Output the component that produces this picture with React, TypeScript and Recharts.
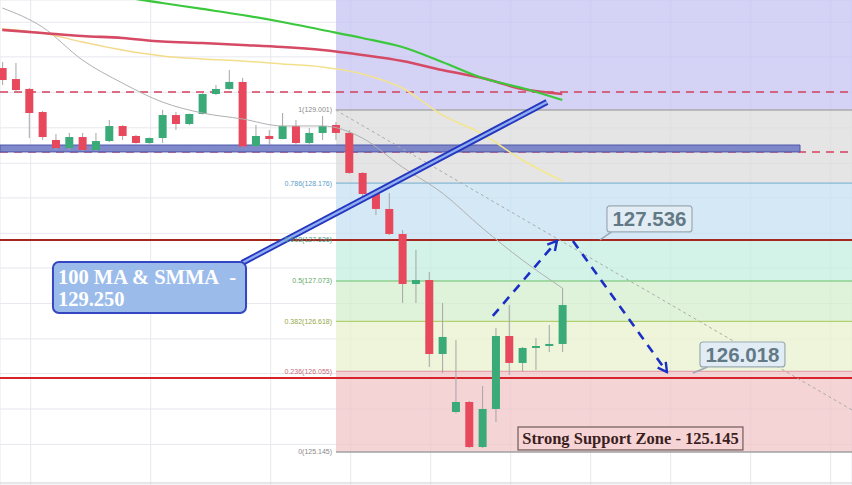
import React from 'react';
import {
  ComposedChart, Bar, Line, XAxis, YAxis, CartesianGrid, ReferenceArea, ReferenceLine,
} from 'recharts';

// ---------- data ----------
const candleIndex = [
  0, 1, 2, 3, 4, 5, 6, 7, 8, 9, 10, 11, 12, 13, 14, 15, 16, 17, 18, 19, 20,
  21, 22, 23, 24, 25, 26, 27, 28, 29, 30, 31, 32, 33, 34, 35, 36, 37, 38, 39, 40, 41, 42,
];
const opens = [
  129.474, 129.35, 129.238, 128.978, 128.663, 128.572, 128.696, 128.55, 128.651, 128.82,
  128.708, 128.629, 128.685, 128.944, 128.843, 128.956, 129.181, 129.238, 129.317, 128.595,
  128.708, 128.674, 128.82, 128.629, 128.742, 128.832, 128.742, 128.291, 128.054, 127.885,
  127.603, 127.039, 127.084, 126.25, 125.596, 125.709, 125.201, 125.63, 126.453, 126.149,
  126.318, 126.34, 126.363,
];
const highs = [
  129.542, 129.531, 129.25, 128.99, 128.73, 128.742, 128.742, 128.742, 128.888, 128.83,
  128.72, 128.69, 129.001, 128.978, 128.96, 129.19, 129.283, 129.452, 129.362, 128.832,
  128.775, 128.967, 128.888, 128.798, 128.933, 128.866, 128.775, 128.3, 128.06, 128.065,
  127.648, 127.423, 127.175, 126.825, 126.408, 125.72, 125.889, 126.543, 126.802, 126.33,
  126.43, 126.577, 126.994,
];
const lows = [
  129.283, 129.204, 128.685, 128.663, 128.55, 128.55, 128.539, 128.539, 128.64, 128.663,
  128.62, 128.62, 128.629, 128.775, 128.83, 128.95, 129.17, 129.23, 128.58, 128.59,
  128.606, 128.67, 128.606, 128.606, 128.663, 128.663, 128.28, 128.02, 127.817, 127.59,
  126.825, 126.825, 126.104, 126.036, 125.58, 125.19, 125.19, 125.483, 126.013, 126.047,
  126.07, 126.273, 126.273,
];
const closes = [
  129.339, 129.226, 128.967, 128.696, 128.572, 128.696, 128.55, 128.651, 128.82, 128.708,
  128.629, 128.685, 128.944, 128.843, 128.956, 129.181, 129.238, 129.317, 128.59, 128.708,
  128.674, 128.82, 128.629, 128.742, 128.82, 128.742, 128.291, 128.054, 127.885, 127.603,
  127.039, 127.084, 126.25, 126.442, 125.709, 125.201, 125.63, 126.453, 126.149, 126.318,
  126.34, 126.363, 126.802,
];

const maIndex = [0, 3, 6, 9, 12, 15, 18, 21, 24, 27, 30, 33, 36, 39, 42];
const ma100Green = [
  null, null, 130.331, 130.275, 130.207, 130.14, 130.072, 129.993, 129.903, 129.813,
  129.711, 129.542, 129.362, 129.249, 129.114,
];
const smmaRed = [
  129.903, 129.869, 129.835, 129.813, 129.773, 129.756, 129.734, 129.711, 129.677, 129.621,
  129.553, 129.452, 129.362, 129.238, 129.181,
];
const maYellow = [
  129.914, 129.869, 129.768, 129.677, 129.61, 129.576, 129.553, 129.52, 129.486, 129.407,
  129.249, 128.945, 128.73, 128.437, 128.201,
];
const maGray = [
  130.151, 129.937, 129.565, 129.305, 129.091, 128.967, 128.9, 128.821, 128.821, 128.685,
  128.358, 128.065, 127.671, 127.31, 126.994,
];

const fibRatios = ['1', '0.786', '0.618', '0.5', '0.382', '0.236', '0'];
const fibPrices = [129.001, 128.176, 127.536, 127.073, 126.618, 126.055, 125.145];
const fibLineColors = ['#aaaaaa', '#86b8d6', '#7fcfb0', '#8fd08f', '#b4cf70', '#e5a3aa', '#a0a0a0'];
const fibTextColors = ['#8a8a8a', '#5b9cc8', '#4f9f8a', '#5ea865', '#94a848', '#c46f7c', '#8a8a8a'];
const fibZoneColors = ['#c5c3f2', '#dcdcdc', '#c7e0f2', '#c4efe0', '#d4efcd', '#e8f2ce', '#f2c5c8'];

const dashedRedLevel = 129.204;
const bandTop = 128.606;
const bandBottom = 128.528;
const resistanceLevel = 127.536;
const supportLevel = 125.98;

const calloutLines = ['100 MA & SMMA\u00a0 -', '129.250'];
const resistanceLabel = '127.536';
const supportLabel = '126.018';
const zoneLabel = 'Strong Support Zone - 125.145';

// ---------- chart domain ----------
const X_MIN = -0.1725;
const X_MAX = 63.73;
const Y_MIN = 124.773;
const Y_MAX = 130.241;
const FIB_START = 25.03;
const BAND_END = 59.83;

const gridX = Array.from({ length: 21 }, (_, k) => 2.13 + 3 * k);
const gridY = [
  124.83, 125.23, 125.63, 126.03, 126.42, 126.82, 127.22, 127.61, 128.01, 128.4, 128.8,
  129.2, 129.6, 129.99,
];

const GREEN = '#3aaa78';
const RED = '#e8485c';

const data = candleIndex.map((i, k) => ({
  i,
  open: opens[k],
  high: highs[k],
  low: lows[k],
  close: closes[k],
  range: [lows[k], highs[k]],
}));

const maData = maIndex.map((i, k) => ({
  i,
  green: ma100Green[k],
  red: smmaRed[k],
  yellow: maYellow[k],
  gray: maGray[k],
}));
const greenData = maData.filter((d) => d.green != null);

const Candle = (props: any) => {
  const { x, width, payload } = props;
  let { y, height } = props;
  if (!payload || x == null) return null;
  if (height < 0) { y += height; height = -height; }
  const { open, close, high, low } = payload;
  const span = high - low;
  const k = span > 0 ? height / span : 0;
  const yOf = (p: number) => y + (high - p) * k;
  const top = yOf(Math.max(open, close));
  const bot = yOf(Math.min(open, close));
  const cx = x + width / 2;
  const color = close >= open ? GREEN : RED;
  return (
    <g>
      <line x1={cx} x2={cx} y1={y} y2={y + height} stroke="#a5a5a5" strokeWidth={1} />
      <rect x={x} y={top} width={width} height={Math.max(bot - top, 2)} fill={color} />
    </g>
  );
};

const serif = '"Liberation Serif", "Times New Roman", serif';
const sans = '"Liberation Sans", Arial, sans-serif';

const CalloutBox = (p: any) => (
  <g>
    <rect x={p.x} y={p.y} width={p.width} height={p.height} rx={6} fill="#9bbcea" stroke="#3446c2" strokeWidth={2} />
    <text x={p.x + 5} y={p.y + 22} fill="#ffffff" fontFamily={serif} fontWeight="bold" fontSize={20.5}>{calloutLines[0]}</text>
    <text x={p.x + 5} y={p.y + 44} fill="#ffffff" fontFamily={serif} fontWeight="bold" fontSize={20.5}>{calloutLines[1]}</text>
  </g>
);

const priceBox = (label: string) => (p: any) => (
  <g>
    <rect x={p.x} y={p.y} width={p.width} height={p.height} rx={3} fill="#e2ecf4" stroke="#9aa9b4" strokeWidth={1.2} />
    <text x={p.x + p.width / 2} y={p.y + p.height / 2 + 7.5} textAnchor="middle" fill="#627986" fontFamily={sans} fontWeight="bold" fontSize={20.5}>{label}</text>
  </g>
);

const ZoneBox = (p: any) => (
  <g>
    <rect x={p.x} y={p.y} width={p.width} height={p.height} fill="#f6d4d6" stroke="#6e5a5a" strokeWidth={1.2} />
    <text x={p.x + p.width / 2} y={p.y + p.height / 2 + 5.5} textAnchor="middle" fill="#3b1f1f" fontFamily={serif} fontWeight="bold" fontSize={16.5}>{zoneLabel}</text>
  </g>
);

const arrowLine = (p: any) => (
  <line x1={p.x1} y1={p.y1} x2={p.x2} y2={p.y2} stroke="#1c2fc4" strokeWidth={2.6} strokeDasharray="9 7" markerEnd="url(#arrowHead)" />
);

export default function App() {
  const zoneBounds = [Y_MAX, ...fibPrices];
  return (
    <div style={{ position: 'fixed', left: 0, top: 0, width: 852, height: 485, background: '#ffffff' }}>
      <ComposedChart width={852} height={485} data={data} margin={{ top: 0, right: 0, bottom: 0, left: 0 }}>
        <defs>
          <marker id="arrowHead" viewBox="0 0 12 12" refX="10" refY="6" markerWidth="12" markerHeight="12" markerUnits="userSpaceOnUse" orient="auto">
            <path d="M1,1 L10,6 L1,11" fill="none" stroke="#1c2fc4" strokeWidth={2.4} />
          </marker>
          <linearGradient id="yellowGrad" x1="0" y1="0" x2="1" y2="0">
            <stop offset="0%" stopColor="#f0a25a" />
            <stop offset="12%" stopColor="#f3d88a" />
            <stop offset="100%" stopColor="#f3e98e" />
          </linearGradient>
        </defs>
        <XAxis dataKey="i" type="number" domain={[X_MIN, X_MAX]} ticks={gridX} allowDataOverflow hide />
        <YAxis type="number" domain={[Y_MIN, Y_MAX]} ticks={gridY} allowDataOverflow hide />
        <CartesianGrid stroke="#e7e7ee" strokeWidth={1} zIndex={-100} />

        {fibZoneColors.map((c, k) => (
          <ReferenceArea key={'z' + k} x1={FIB_START} x2={X_MAX} y1={zoneBounds[k + 1]} y2={zoneBounds[k]}
            fill={c} fillOpacity={0.75} stroke="none" ifOverflow="visible" zIndex={-60} />
        ))}
        {fibPrices.map((p, k) => (
          <ReferenceLine key={'f' + k} segment={[{ x: FIB_START, y: p }, { x: X_MAX, y: p }]}
            stroke={fibLineColors[k]} strokeWidth={1.3} ifOverflow="visible" zIndex={-40}
            label={{ value: `${fibRatios[k]}(${p.toFixed(3)})`, position: 'left', offset: 4, fill: fibTextColors[k], fontSize: 7, fontFamily: sans }} />
        ))}

        <ReferenceLine y={dashedRedLevel} stroke="#d4415e" strokeWidth={1.6} strokeDasharray="8 6" ifOverflow="visible" zIndex={-30} />
        <ReferenceLine y={bandBottom} stroke="#d4415e" strokeWidth={1.4} strokeDasharray="8 6" ifOverflow="visible" zIndex={-30} />
        <ReferenceArea x1={X_MIN} x2={BAND_END} y1={bandBottom} y2={bandTop} fill="#7580c6" fillOpacity={0.92}
          stroke="#4c57ad" strokeWidth={1} ifOverflow="visible" zIndex={-20} />
        <ReferenceLine y={resistanceLevel} stroke="#a3261f" strokeWidth={2} ifOverflow="visible" zIndex={-10} />
        <ReferenceLine y={supportLevel} stroke="#d8232a" strokeWidth={2} ifOverflow="visible" zIndex={-10} />
        <ReferenceLine y={124.796} stroke="#d0d0d0" strokeWidth={1} ifOverflow="visible" zIndex={-10} />

        <ReferenceLine segment={[{ x: 25.0, y: 129.001 }, { x: X_MAX, y: 125.619 }]} stroke="#ababab" strokeWidth={1}
          strokeDasharray="3 3" ifOverflow="visible" zIndex={350} />

        <Line data={maData} dataKey="gray" type="monotone" stroke="#b0b0b0" strokeWidth={1} dot={false} activeDot={false} isAnimationActive={false} />
        <Line data={maData} dataKey="yellow" type="monotone" stroke="url(#yellowGrad)" strokeWidth={1.5} dot={false} activeDot={false} isAnimationActive={false} />
        <Line data={maData} dataKey="red" type="monotone" stroke="#d54a64" strokeWidth={2.6} dot={false} activeDot={false} isAnimationActive={false} />
        <Line data={greenData} dataKey="green" type="monotone" stroke="#3cc83c" strokeWidth={2.2} dot={false} activeDot={false} isAnimationActive={false} />

        <Bar dataKey="range" barSize={8} shape={Candle} isAnimationActive={false} />

        <ReferenceLine segment={[{ x: 17.98, y: 127.276 }, { x: 40.85, y: 129.091 }]} stroke="#2536bf" strokeWidth={6}
          ifOverflow="visible" zIndex={1400} />
        <ReferenceLine segment={[{ x: 17.98, y: 127.276 }, { x: 40.85, y: 129.091 }]} stroke="#8eaef0" strokeWidth={2.4}
          ifOverflow="visible" zIndex={1401} />
        <ReferenceArea x1={3.8} x2={18.28} y1={126.712} y2={127.287} shape={CalloutBox} ifOverflow="visible" zIndex={1450} />

        <ReferenceLine segment={[{ x: 36.79, y: 126.679 }, { x: 41.6, y: 127.524 }]} shape={arrowLine} ifOverflow="visible" zIndex={1300} />
        <ReferenceLine segment={[{ x: 42.8, y: 127.524 }, { x: 49.85, y: 126.047 }]} shape={arrowLine} ifOverflow="visible" zIndex={1300} />

        <ReferenceLine segment={[{ x: 45.7, y: 127.626 }, { x: 44.83, y: 127.536 }]} stroke="#9aa9b4" strokeWidth={1.5} ifOverflow="visible" zIndex={1300} />
        <ReferenceArea x1={45.35} x2={51.73} y1={127.626} y2={127.919} shape={priceBox(resistanceLabel)} ifOverflow="visible" zIndex={1450} />
        <ReferenceLine segment={[{ x: 52.9, y: 126.104 }, { x: 51.8, y: 126.036 }]} stroke="#9aa9b4" strokeWidth={1.5} ifOverflow="visible" zIndex={1300} />
        <ReferenceArea x1={52.33} x2={58.7} y1={126.104} y2={126.385} shape={priceBox(supportLabel)} ifOverflow="visible" zIndex={1450} />
        <ReferenceArea x1={38.68} x2={55.55} y1={125.168} y2={125.427} shape={ZoneBox} ifOverflow="visible" zIndex={1450} />
      </ComposedChart>
    </div>
  );
}
